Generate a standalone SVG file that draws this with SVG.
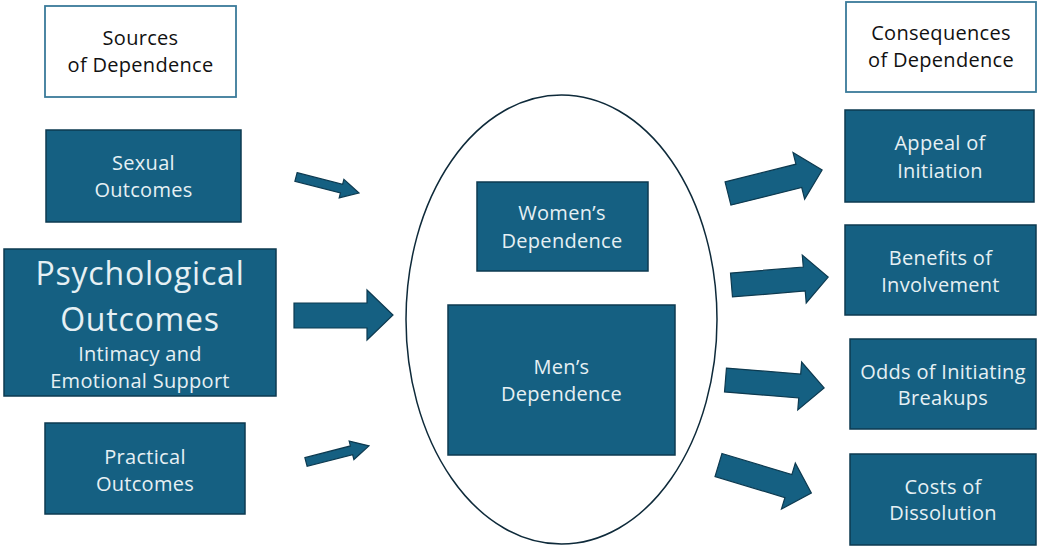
<svg xmlns="http://www.w3.org/2000/svg" width="1041" height="546" viewBox="0 0 1041 546">
<style>
.box{fill:#156082;stroke:#0d3a50;stroke-width:1.5}
.hdr{fill:#ffffff;stroke:#3a7a9a;stroke-width:1.8}
.t{font-family:"Open Sans","Liberation Sans",sans-serif;font-size:20px;fill:#e6f0f4;text-anchor:middle;letter-spacing:0.3px}
.th{font-family:"Open Sans","Liberation Sans",sans-serif;font-size:20px;fill:#111111;text-anchor:middle;letter-spacing:0.3px}
.big{font-size:32px;letter-spacing:0.8px}
.arr{fill:#156082;stroke:#0d3a50;stroke-width:1.2;stroke-linejoin:miter}
</style>
<defs>
<polygon id="thin" points="0,-4.5 47,-4.5 47,-9.5 65,0 47,9.5 47,4.5 0,4.5"/>
<polygon id="fat" points="0,-12 73,-12 73,-24 97,0 73,24 73,12 0,12"/>
</defs>
<rect width="1041" height="546" fill="#ffffff"/>
<g id="ellipse-group">
<ellipse cx="561.5" cy="319.5" rx="155.5" ry="224.5" fill="none" stroke="#0e2a3a" stroke-width="1.5"/>
</g>
<g id="sources">
<rect class="hdr" x="45" y="6" width="191" height="91"/>
<text class="th" x="140.5" y="45">Sources</text>
<text class="th" x="140.5" y="72">of Dependence</text>
</g>
<g id="sexual">
<rect class="box" x="46" y="130" width="195" height="92"/>
<text class="t" x="143.5" y="170">Sexual</text>
<text class="t" x="143.5" y="197">Outcomes</text>
</g>
<g id="psychological">
<rect class="box" x="4" y="249" width="272" height="147"/>
<text class="t big" x="140" y="285">Psychological</text>
<text class="t big" x="140" y="331">Outcomes</text>
<text class="t" x="140" y="361">Intimacy and</text>
<text class="t" x="140" y="388">Emotional Support</text>
</g>
<g id="practical">
<rect class="box" x="45" y="423" width="200" height="91"/>
<text class="t" x="145" y="464">Practical</text>
<text class="t" x="145" y="491">Outcomes</text>
</g>
<g id="women">
<rect class="box" x="477" y="182" width="171" height="89"/>
<text class="t" x="562" y="220">Women’s</text>
<text class="t" x="562" y="248">Dependence</text>
</g>
<g id="men">
<rect class="box" x="448" y="305" width="227" height="150"/>
<text class="t" x="561.5" y="374">Men’s</text>
<text class="t" x="561.5" y="401">Dependence</text>
</g>
<g id="consequences">
<rect class="hdr" x="846" y="2" width="190" height="90"/>
<text class="th" x="941" y="40">Consequences</text>
<text class="th" x="941" y="67">of Dependence</text>
</g>
<g id="appeal">
<rect class="box" x="845" y="110" width="189" height="92"/>
<text class="t" x="940" y="150">Appeal of</text>
<text class="t" x="940" y="178">Initiation</text>
</g>
<g id="benefits">
<rect class="box" x="845" y="225" width="191" height="90"/>
<text class="t" x="940.5" y="265">Benefits of</text>
<text class="t" x="940.5" y="292">Involvement</text>
</g>
<g id="odds">
<rect class="box" x="850" y="339" width="186" height="90"/>
<text class="t" x="943" y="379">Odds of Initiating</text>
<text class="t" x="943" y="405">Breakups</text>
</g>
<g id="costs">
<rect class="box" x="850" y="454" width="186" height="91"/>
<text class="t" x="943" y="494">Costs of</text>
<text class="t" x="943" y="520">Dissolution</text>
</g>
<g id="connectors">
<use href="#thin" class="arr" transform="translate(296,177) rotate(14.3)"/>
<polygon class="arr" points="294,303 367,303 367,290 393,315 367,340 367,328 294,328"/>
<use href="#thin" class="arr" transform="translate(306,462) rotate(-14.4)"/>
<use href="#fat" class="arr" transform="translate(728,193.5) rotate(-14)"/>
<use href="#fat" class="arr" transform="translate(731.5,285) rotate(-4.7)"/>
<use href="#fat" class="arr" transform="translate(725.5,380) rotate(4.6) scale(1.02,1)"/>
<use href="#fat" class="arr" transform="translate(718.5,465) rotate(16.8)"/>
</g>
</svg>
